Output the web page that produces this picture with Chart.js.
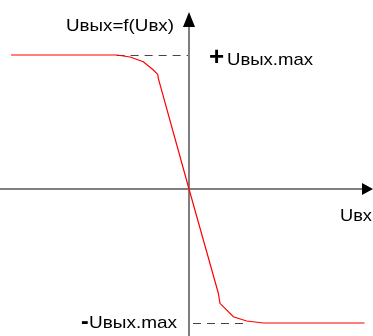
<!DOCTYPE html>
<html>
<head>
<meta charset="utf-8">
<script src="https://cdn.jsdelivr.net/npm/chart.js@4"></script>
<style>
html,body{margin:0;padding:0;background:#fff;}
#wrap{width:373px;height:336px;position:relative;}
</style>
</head>
<body>
<div id="wrap"><canvas id="c"></canvas></div>
<script>
// Transfer characteristic Uвых = f(Uвх), Uвых.max = 10 units
const inputValues  = [-13.28, -5.4, -4.4, -3.41, -2.66, -2.33, -2.29, 0, 2.19, 2.31, 3.31, 4.3, 5.55, 13.1];
const outputValues = [10, 10, 9.85, 9.5, 8.88, 8.55, 8.26, 0, -7.78, -8.53, -9.53, -9.85, -10, -10];
const uMax = 10;
const kneeStartTop = -5.4;   // where dashed +max line starts
const kneeEndBottom = 4.3;   // where dashed -max line ends
const labels = {
  yAxis: "Uвых=f(Uвх)",
  xAxis: "Uвх",
  plusMax: "Uвых.max",
  minusMax: "Uвых.max"
};

const points = inputValues.map((x, i) => ({x: x, y: outputValues[i]}));

const FONT = '"Liberation Sans", Arial, sans-serif';

function fitText(ctx, text, left, right, baseline, size) {
  ctx.font = size + 'px ' + FONT;
  const w = ctx.measureText(text).width;
  const sx = (right - left) / w;
  ctx.save();
  ctx.translate(left, baseline);
  ctx.scale(sx, 1);
  ctx.fillText(text, 0, 0);
  ctx.restore();
}

const axesPlugin = {
  id: 'axesPlugin',
  beforeDatasetsDraw(chart) {
    const ctx = chart.ctx;
    const xs = chart.scales.x, ys = chart.scales.y;
    const ca = chart.chartArea;
    const x0 = xs.getPixelForValue(0);
    const y0 = ys.getPixelForValue(0);
    ctx.save();
    // dashed lines
    ctx.strokeStyle = '#444';
    ctx.lineWidth = 1;
    ctx.setLineDash([8, 6]);
    const yTop = ys.getPixelForValue(uMax);
    const yBot = ys.getPixelForValue(-uMax);
    ctx.beginPath();
    ctx.moveTo(xs.getPixelForValue(kneeStartTop), yTop + 0.5);
    ctx.lineTo(x0, yTop + 0.5);
    ctx.stroke();
    ctx.beginPath();
    ctx.moveTo(x0 + 4, yBot + 0.5);
    ctx.lineTo(xs.getPixelForValue(kneeEndBottom), yBot + 0.5);
    ctx.stroke();
    ctx.setLineDash([]);
    // axes
    ctx.strokeStyle = '#7f7f7f';
    ctx.lineWidth = 2;
    ctx.beginPath();
    ctx.moveTo(ca.left, y0);
    ctx.lineTo(ca.right - 10, y0);
    ctx.stroke();
    ctx.beginPath();
    ctx.moveTo(x0, ca.bottom);
    ctx.lineTo(x0, ca.top + 26);
    ctx.stroke();
    // arrowheads
    ctx.fillStyle = '#000';
    ctx.beginPath();
    ctx.moveTo(x0, ca.top + 12);
    ctx.lineTo(x0 - 6, ca.top + 27);
    ctx.lineTo(x0 + 6, ca.top + 27);
    ctx.closePath();
    ctx.fill();
    ctx.beginPath();
    ctx.moveTo(ca.right, y0);
    ctx.lineTo(ca.right - 11, y0 - 6);
    ctx.lineTo(ca.right - 11, y0 + 6);
    ctx.closePath();
    ctx.fill();
    // texts
    ctx.fillStyle = '#000';
    ctx.textBaseline = 'alphabetic';
    ctx.textAlign = 'left';
    fitText(ctx, labels.yAxis, 66, 174, 31, 16);
    fitText(ctx, labels.xAxis, 340, 372, 221, 17);
    // + max
    ctx.font = 'bold 26px ' + FONT;
    ctx.fillText('+', 209, 65);
    fitText(ctx, labels.plusMax, 227, 313, 65, 17);
    // - max
    ctx.font = 'bold 23px ' + FONT;
    ctx.fillText('-', 81, 329);
    fitText(ctx, labels.minusMax, 89, 177, 328, 17);
    ctx.restore();
  }
};

new Chart(document.getElementById('c'), {
  type: 'scatter',
  data: {
    datasets: [{
      data: points,
      showLine: true,
      borderColor: '#ff0000',
      borderWidth: 1.2,
      pointRadius: 0,
      tension: 0,
      fill: false
    }]
  },
  options: {
    responsive: true,
    maintainAspectRatio: false,
    animation: false,
    layout: {padding: 0},
    plugins: {legend: {display: false}, tooltip: {enabled: false}},
    scales: {
      x: {type: 'linear', display: false, min: -14.104, max: 13.731},
      y: {type: 'linear', display: false, min: -10.97, max: 14.104}
    }
  },
  plugins: [axesPlugin]
});
</script>
</body>
</html>
